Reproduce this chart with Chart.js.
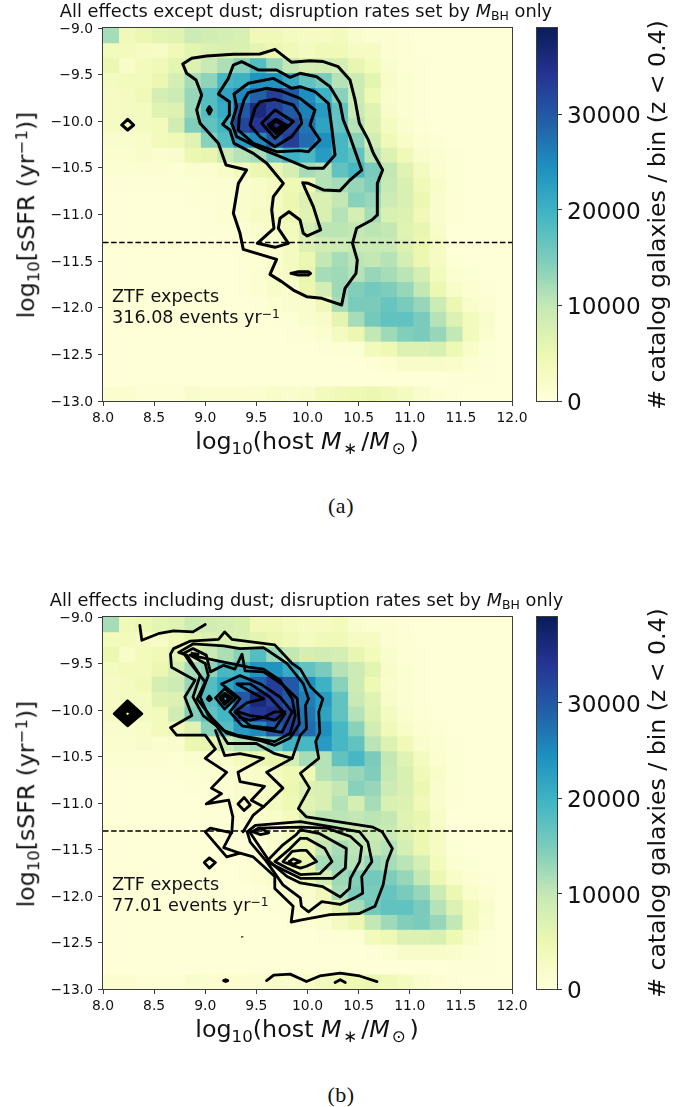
<!DOCTYPE html>
<html><head><meta charset="utf-8">
<script src="https://cdn.jsdelivr.net/npm/chart.js@4"></script>
<style>
html,body{margin:0;padding:0;background:#fff;width:690px;height:1107px;overflow:hidden}
body{position:relative;font-family:"DejaVu Sans",sans-serif;color:#000}
canvas{position:absolute;filter:blur(.3px)}
.t{position:absolute;white-space:nowrap;transform:translate(-50%,-50%);line-height:1;color:#111}
.r{transform:translate(-50%,-50%) rotate(-90deg)}
.l{transform:translate(0,-50%)}
.s{font-size:.7em;position:relative;top:.28em}
.g{font-size:.7em;position:relative;top:.28em;margin:0 .22em 0 .12em}
.u{font-size:.7em;position:relative;top:-.42em}
.cap{font-family:"Liberation Serif",serif;letter-spacing:.5px}
</style></head><body>
<canvas id="mainA" style="left:0;top:0"></canvas>
<canvas id="barA" style="left:525px;top:0"></canvas>
<canvas id="mainB" style="left:0;top:588px"></canvas>
<canvas id="barB" style="left:525px;top:588px"></canvas>

<div class="t" style="left:306px;top:11px;font-size:17.8px">All effects except dust; disruption rates set by <i>M</i><span class="s">BH</span> only</div>
<div class="t" style="left:306.5px;top:600px;font-size:17.8px">All effects including dust; disruption rates set by <i>M</i><span class="s">BH</span> only</div>
<div class="t r" style="left:27px;top:215px;font-size:23.6px">log<span class="s">10</span>[sSFR (yr<span class="u">−1</span>)]</div>
<div class="t r" style="left:27px;top:804px;font-size:23.6px">log<span class="s">10</span>[sSFR (yr<span class="u">−1</span>)]</div>
<div class="t" style="left:307px;top:442px;font-size:23.8px">log<span class="s">10</span>(host <i>M</i><span class="g">∗</span>/<i>M</i><span class="g">⊙</span>)</div>
<div class="t" style="left:307px;top:1030px;font-size:23.8px">log<span class="s">10</span>(host <i>M</i><span class="g">∗</span>/<i>M</i><span class="g">⊙</span>)</div>
<div class="t r" style="left:658px;top:215px;font-size:23.6px"># catalog galaxies / bin (z &lt; 0.4)</div>
<div class="t r" style="left:658px;top:803px;font-size:23.6px"># catalog galaxies / bin (z &lt; 0.4)</div>
<div class="t l" style="left:112px;top:297px;font-size:17.6px">ZTF expects</div>
<div class="t l" style="left:112px;top:318px;font-size:17.6px">316.08 events yr<span class="u">−1</span></div>
<div class="t l" style="left:112px;top:885px;font-size:17.6px">ZTF expects</div>
<div class="t l" style="left:112px;top:906px;font-size:17.6px">77.01 events yr<span class="u">−1</span></div>
<div class="t cap" style="left:341px;top:506px;font-size:22px">(a)</div>
<div class="t cap" style="left:341px;top:1095px;font-size:22px">(b)</div>

<script>
// Galaxy counts per bin, in thousands; rows run from sSFR -9 downward, columns from mass 8 upward.
const densityK = [
[12,4,5,6,6.5,9,8.5,8,7.5,4,4,3,2.5,2.5,3.5,1.5,1,.8,.5,.3,.2,.2,.2,.2,.2],
[3.5,3.5,2.5,2.3,4,6,7,7.5,7.5,6,5,4,3,4,4,2.5,2.5,.8,.6,.3,.2,.2,.2,.2,.2],
[5,2,3.5,4,6,7,9.5,11.5,14,18,13,10,8,8.5,8,5.5,3.5,1.5,.6,.4,.2,.2,.2,.2,.2],
[3,3.5,3.5,5,8,12,13.5,19,20,24,24,21,17,15,11,9,6,2,1,.5,.2,.2,.2,.2,.2],
[2.5,3,4,8,9,13,18,22,25,29,33,30,24.5,20,14,9,4.5,1.5,1,.5,.2,.2,.2,.2,.2],
[2.5,3,3,6.5,7,13,18,21,30,36,33,30,26,23,17,9.5,6.5,2,1,.5,.2,.2,.2,.2,.2],
[2.5,2.5,3,3.5,8.5,14.5,17,19.5,32,34,35,32,27,22,17,11,7,3,1.3,.6,.3,.2,.2,.2,.2],
[1.5,1.5,2,3.5,4,6.5,14,18,23,25,30,33,28,24.5,19,14,8.5,4,2,.8,.6,.2,.2,.2,.2],
[1.2,1.3,1.8,1.2,1.5,5,5.5,9,11,12,16,20,19,23,19,17,10.5,7,4,1.5,1,.5,.2,.2,.2],
[1,1,1,.8,.7,1.3,1.2,2,3.5,5,5.5,8,12,11,17,19,15,10,6.5,3,1.2,.7,.3,.2,.2],
[.5,.5,.5,.5,.6,.7,.8,1,1.5,2,3,4.5,4.5,11,12,13,14.6,9.7,7.5,4,2,.7,.3,.2,.2],
[.3,.3,.3,.3,.3,.5,.6,.9,1.5,2,3,5,7,7.5,10,14,13,9,7.5,5,1.5,.6,.3,.2,.2],
[.3,.3,.3,.3,.3,.3,.5,.8,1.5,2.5,3,4.5,6.5,7.5,11,8,12,7.5,7,4,1.5,.6,.3,.2,.2],
[.3,.3,.3,.3,.3,.3,.4,.5,.8,1.5,2,3.5,8,10.5,10.5,10,10.5,10,6.5,5.5,2,.3,.2,.2,.2],
[.3,.3,.3,.3,.3,.3,.3,.4,.6,1,1.5,3,7,8.5,9,9.5,9.5,9.5,7,5,2.5,.3,.2,.2,.2],
[.3,.3,.3,.3,.3,.3,.3,.3,.4,.7,1.5,3,5,10,12,10.5,10,11,8,5,2.5,.7,.3,.2,.2],
[.2,.2,.2,.2,.2,.2,.2,.3,.5,1,2,2.5,5.5,12,12.5,11,13,12,10.5,8,3.5,1,.7,.3,.2],
[.2,.2,.2,.2,.2,.2,.2,.2,.4,.8,2,1.5,5,8,12.5,14.5,15.5,14.7,13,10,5,2,.8,.4,.2],
[.2,.2,.2,.2,.2,.2,.2,.2,.2,.5,1,1.5,1.5,4,12,15,15,16.5,15,13,9,5,1.7,.8,.3],
[.2,.2,.2,.2,.2,.2,.2,.2,.2,.2,.4,.7,1.5,2,6,12,15.5,17,17,15,11,7,3.5,1.5,.3],
[.2,.2,.2,.2,.2,.2,.2,.2,.2,.2,.3,.4,.6,1.3,3,5,10,12.5,14.5,15,13,10,3.5,1.3,.3],
[.2,.2,.2,.2,.2,.2,.2,.2,.2,.2,.2,.2,.2,.5,.6,.7,3.5,4.5,7,7,7.5,4.5,2,.7,.3],
[.2,.2,.2,.2,.2,.2,.2,.2,.2,.2,.2,.2,.2,.2,.2,.3,.5,.8,1.8,1.8,2,1.6,1,.5,.2],
[.2,.2,.2,.2,.2,.2,.2,.2,.2,.2,.2,.2,.2,.2,.2,.2,.2,.2,.2,.2,.2,.4,.4,.4,.2],
[1.2,1.2,.6,.6,.6,1.5,1.2,1.2,1.2,1.3,2,1.5,2,3.5,4,4.5,5,4,3,1.5,.8,.4,.3,.2,.2]
];
const massStart = 8, ssfrStart = -9, binWidth = 0.16;
const massTicks = [8, 8.5, 9, 9.5, 10, 10.5, 11, 11.5, 12];
const ssfrTicks = [-13, -12.5, -12, -11.5, -11, -10.5, -10, -9.5, -9];
const colorbarTicks = [0, 10000, 20000, 30000];
const colorMax = 39000;
const ztfLimit = -11.3;

// Contours in (log mass, log sSFR). Closed loops:
const contoursA = [
[[8.78,-9.386],[8.867,-9.325],[9.014,-9.3],[9.275,-9.282],[9.535,-9.279],[9.682,-9.229],[9.845,-9.368],[10.024,-9.35],[10.155,-9.36],[10.3,-9.415],[10.416,-9.558],[10.465,-9.772],[10.507,-10.022],[10.595,-10.2],[10.644,-10.344],[10.735,-10.523],[10.683,-10.666],[10.683,-11.005],[10.63,-11.059],[10.48,-11.148],[10.44,-11.309],[10.487,-11.488],[10.474,-11.631],[10.367,-11.792],[10.334,-11.971],[10.139,-11.899],[9.992,-11.881],[9.861,-11.81],[9.747,-11.72],[9.633,-11.642],[9.698,-11.481],[9.372,-11.374],[9.34,-11.202],[9.275,-10.987],[9.324,-10.666],[9.405,-10.523],[9.203,-10.469],[9.128,-10.237],[8.949,-10.022],[8.916,-9.879],[8.965,-9.719],[8.91,-9.558],[8.818,-9.486]],
[[9.226,-9.54],[9.275,-9.397],[9.356,-9.361],[9.519,-9.45],[9.698,-9.45],[9.829,-9.529],[9.927,-9.486],[10.09,-9.522],[10.22,-9.629],[10.318,-9.808],[10.35,-9.987],[10.416,-10.165],[10.53,-10.523],[10.416,-10.63],[10.318,-10.744],[10.155,-10.737],[10.008,-10.666],[9.953,-10.659],[9.976,-10.719],[10.057,-10.916],[10.129,-11.166],[9.998,-11.23],[9.959,-11.202],[9.927,-11.059],[9.819,-10.97],[9.731,-11.041],[9.715,-11.148],[9.813,-11.309],[9.682,-11.352],[9.509,-11.309],[9.672,-11.148],[9.65,-10.952],[9.666,-10.809],[9.764,-10.666],[9.601,-10.451],[9.47,-10.344],[9.281,-10.237],[9.242,-10.094],[9.17,-10.033],[9.236,-9.933],[9.236,-9.79],[9.128,-9.708]],
[[9.281,-9.708],[9.421,-9.593],[9.666,-9.54],[9.845,-9.647],[9.927,-9.629],[10.073,-9.683],[10.204,-9.808],[10.236,-10.058],[10.269,-10.362],[10.155,-10.505],[10.008,-10.505],[9.927,-10.469],[9.698,-10.362],[9.535,-10.29],[9.307,-10.165],[9.258,-10.022],[9.307,-9.844]],
[[9.379,-9.772],[9.421,-9.693],[9.601,-9.647],[9.731,-9.672],[9.927,-9.754],[10.073,-9.879],[10.024,-10.04],[10.122,-10.201],[10.008,-10.326],[9.927,-10.315],[9.698,-10.326],[9.47,-10.237],[9.324,-10.094],[9.333,-9.951]],
[[9.487,-9.861],[9.535,-9.79],[9.682,-9.765],[9.861,-9.826],[9.927,-9.933],[9.943,-10.022],[9.845,-10.165],[9.682,-10.273],[9.535,-10.165],[9.438,-10.04]],
[[9.552,-10.022],[9.682,-9.879],[9.861,-10.004],[9.682,-10.183]],
[[9.617,-10.04],[9.692,-9.979],[9.796,-10.04],[9.692,-10.13]],
[[9.65,-10.04],[9.69,-10],[9.76,-10.04],[9.69,-10.09]],
[[8.183,-10.04],[8.241,-9.98],[8.3,-10.04],[8.241,-10.094]],
[[9.04,-9.844],[9.06,-9.88],[9.04,-9.922],[9.02,-9.88]],
[[9.839,-11.631],[9.91,-11.613],[10.008,-11.613],[10.03,-11.631],[10.008,-11.649],[9.91,-11.649]]
];
const contoursB = [
[[8.66,-9.4],[8.69,-9.34],[8.85,-9.26],[9.13,-9.24],[9.19,-9.16],[9.26,-9.24],[9.47,-9.27],[9.68,-9.3],[9.85,-9.5],[9.93,-9.56],[10.03,-9.75],[10.15,-9.88],[10.11,-10.02],[10.12,-10.24],[10.08,-10.34],[10.11,-10.52],[9.93,-10.68],[10.02,-10.84],[9.93,-11.02],[9.91,-11.06],[9.99,-11.15],[10.64,-11.26],[10.73,-11.31],[10.83,-11.49],[10.78,-11.63],[10.74,-11.88],[10.66,-12.11],[10.5,-12.19],[10.22,-12.2],[9.93,-12.26],[9.84,-12.28],[9.86,-12.11],[9.68,-11.92],[9.68,-11.79],[9.47,-11.58],[9.34,-11.54],[9.18,-11.48],[9.26,-11.31],[9.27,-11.15],[9.23,-10.97],[9.01,-11.01],[9.16,-10.9],[9.06,-10.84],[9.21,-10.67],[9,-10.52],[9.1,-10.42],[9,-10.27],[8.72,-10.27],[8.66,-10.19],[8.87,-10.06],[8.8,-9.86],[8.9,-9.68],[8.67,-9.54]],
[[8.74,-9.38],[8.88,-9.29],[9.18,-9.31],[9.34,-9.34],[9.57,-9.33],[9.8,-9.5],[9.96,-9.72],[10.01,-9.88],[9.98,-9.95],[9.99,-10.2],[9.93,-10.27],[9.85,-10.52],[9.68,-10.47],[9.5,-10.36],[9.22,-10.36],[9.11,-10.17],[8.98,-10.06],[8.88,-9.86],[8.95,-9.63],[8.82,-9.41]],
[[8.79,-9.39],[8.88,-9.34],[9.01,-9.41],[9.05,-9.59],[9.18,-9.52],[9.29,-9.56],[9.36,-9.4],[9.39,-9.58],[9.57,-9.59],[9.76,-9.73],[9.9,-9.88],[9.92,-10.15],[9.83,-10.3],[9.68,-10.38],[9.54,-10.33],[9.34,-10.29],[9.21,-10.25],[9.06,-10.08],[8.92,-9.88],[9,-9.7],[8.85,-9.49]],
[[8.85,-9.41],[9,-9.5],[9.03,-9.63],[8.95,-9.86],[9.03,-10.06],[9.18,-10.22],[9.31,-10.27],[9.68,-10.34],[9.83,-10.25],[9.88,-10.06],[9.85,-9.88],[9.73,-9.68],[9.57,-9.56],[9.42,-9.54]],
[[8.87,-9.39],[8.93,-9.4],[8.92,-9.42]],
[[9.16,-9.72],[9.34,-9.63],[9.54,-9.72],[9.73,-9.86],[9.85,-10.02],[9.75,-10.24],[9.63,-10.22],[9.36,-10.17],[9.24,-10.02],[9.34,-9.88]],
[[9.31,-9.72],[9.44,-9.72],[9.63,-9.86],[9.78,-10.04],[9.68,-10.2],[9.44,-10.17],[9.29,-10.02],[9.41,-9.92],[9.57,-9.88]],
[[9.32,-10.02],[9.44,-10.06],[9.57,-10.08],[9.68,-10.02],[9.78,-10.02],[9.68,-10.11],[9.57,-10.08],[9.44,-10.11],[9.34,-10.08]],
[[9.1,-9.87],[9.19,-9.77],[9.3,-9.87],[9.19,-9.99]],
[[9.14,-9.87],[9.19,-9.82],[9.26,-9.87],[9.19,-9.94]],
[[9.17,-9.87],[9.19,-9.84],[9.23,-9.88],[9.19,-9.92]],
[[9.02,-9.88],[9.04,-9.85],[9.06,-9.88],[9.04,-9.9]],
[[8.99,-11.64],[9.04,-11.59],[9.1,-11.64],[9.04,-11.7]],
[[9.32,-11.01],[9.38,-10.94],[9.44,-11.02],[9.38,-11.08]],
[[9.41,-11.31],[9.49,-11.24],[9.93,-11.2],[10.25,-11.26],[10.51,-11.31],[10.59,-11.42],[10.63,-11.63],[10.53,-11.79],[10.54,-11.97],[10.46,-12.02],[10.32,-12.09],[10.14,-12.06],[10.01,-12.17],[9.94,-12.11],[9.93,-12.02],[9.76,-11.88],[9.6,-11.63],[9.44,-11.42]],
[[9.44,-11.32],[9.52,-11.27],[9.93,-11.26],[10.19,-11.27],[10.42,-11.36],[10.53,-11.47],[10.51,-11.63],[10.42,-11.81],[10.41,-11.92],[10.32,-12.01],[10.15,-11.9],[9.93,-11.86],[9.8,-11.79],[9.63,-11.63],[9.5,-11.42]],
[[9.93,-11.29],[10.12,-11.33],[10.38,-11.49],[10.37,-11.7],[10.25,-11.81],[9.93,-11.81],[9.8,-11.74],[9.6,-11.63],[9.76,-11.45],[9.89,-11.34]],
[[9.93,-11.38],[9.99,-11.38],[10.17,-11.49],[10.24,-11.63],[10.12,-11.76],[9.93,-11.77],[9.8,-11.7],[9.68,-11.63],[9.83,-11.49]],
[[9.93,-11.51],[9.99,-11.51],[10.09,-11.63],[9.99,-11.68],[9.93,-11.7],[9.85,-11.67],[9.76,-11.63],[9.85,-11.52]],
[[9.82,-11.63],[9.86,-11.6],[9.93,-11.63],[9.86,-11.66]],
[[9.47,-11.31],[9.54,-11.27],[9.62,-11.32],[9.54,-11.34]],
[[9.18,-12.91],[9.2,-12.9],[9.22,-12.91],[9.2,-12.92]],
[[8.11,-10.04],[8.24,-9.9],[8.38,-10.04],[8.24,-10.17]],
[[8.13,-10.04],[8.24,-9.925],[8.35,-10.04],[8.24,-10.15]],
[[8.155,-10.04],[8.24,-9.955],[8.325,-10.04],[8.24,-10.125]],
[[8.18,-10.04],[8.24,-9.98],[8.3,-10.04],[8.24,-10.1]],
[[8.205,-10.04],[8.24,-10.005],[8.275,-10.04],[8.24,-10.075]]
];
// Open contour pieces
const openA = [];
const openB = [
[[8.36,-9.09],[8.38,-9.25],[8.54,-9.18],[8.69,-9.15],[8.88,-9.16],[9,-9.08]],
[[9.26,-11.32],[9.05,-11.27],[9,-11.31],[9.21,-11.58],[9.34,-11.54]],
[[9.1,-10.22],[9.19,-10.49],[9.34,-10.47],[9.57,-10.52],[9.32,-10.67],[9.34,-10.77],[9.58,-10.82],[9.45,-10.97],[9.57,-11.04],[9.47,-11.13],[9.37,-11.31]],
[[9.85,-10.52],[9.6,-10.67],[9.76,-10.84],[9.57,-11.04]],
[[9.6,-12.91],[9.67,-12.85],[9.83,-12.84],[9.99,-12.92],[10.12,-12.86],[10.32,-12.83],[10.51,-12.86],[10.68,-12.92]],
[[10.27,-12.93],[10.32,-12.9],[10.37,-12.93]]
];
const tinyB = [[[9.35,-12.44],[9.37,-12.44]]];

const stops = [[255,255,217],[237,248,177],[199,233,180],[127,205,187],[65,182,196],[29,145,192],[34,94,168],[37,52,148],[8,29,88]];
function ylgnbu(t){
  t = Math.max(0, Math.min(1, t)) * (stops.length - 1);
  const i = Math.min(stops.length - 2, Math.floor(t)), f = t - i;
  const c = stops[i].map((v, k) => Math.round(v + (stops[i + 1][k] - v) * f));
  return `rgb(${c[0]},${c[1]},${c[2]})`;
}
const spine = '#3c3c3c';
const framePlugin = {
  id: 'frame',
  afterDraw(chart){
    const a = chart.chartArea, c = chart.ctx;
    c.save(); c.strokeStyle = spine; c.lineWidth = 1;
    c.strokeRect(Math.round(a.left) + .5 - 1, Math.round(a.top) - .5, Math.round(a.width) + 1, Math.round(a.height) + 1);
    c.restore();
  }
};
const minus = v => String(v.toFixed(1)).replace('-', '\u2212');

function heatDatasets(){
  return densityK.map((row, j) => ({
    type: 'bar', order: 5, grouped: false, barPercentage: 1, categoryPercentage: 1,
    borderWidth: 0,
    backgroundColor: row.map(v => ylgnbu(v * 1000 / colorMax)),
    data: row.map((v, i) => ({
      x: massStart + binWidth * (i + .5),
      y: [ssfrStart - binWidth * (j + 1), ssfrStart - binWidth * j]
    }))
  }));
}
function lineSet(pts, close, width, extra){
  const path = pts.map(p => ({x: p[0], y: p[1]}));
  if (close) path.push({x: pts[0][0], y: pts[0][1]});
  return Object.assign({
    type: 'scatter', order: 2, showLine: true, tension: 0, pointRadius: 0,
    borderColor: '#000', borderWidth: width, borderJoinStyle: 'round', borderCapStyle: 'round',
    data: path
  }, extra || {});
}
function panel(id, padTop, closed, open, tiny, w){
  const cv = document.getElementById(id);
  cv.width = 535; cv.height = 440; cv.style.width = '535px'; cv.style.height = '440px';
  const ds = heatDatasets();
  closed.forEach(p => ds.push(lineSet(p, true, w)));
  open.forEach(p => ds.push(lineSet(p, false, w)));
  tiny.forEach(p => ds.push(lineSet(p, false, 1)));
  ds.push(lineSet([[massStart, ztfLimit], [12, ztfLimit]], false, 1.5, {order: 1, borderDash: [5.5, 2.6], borderCapStyle: 'butt'}));
  new Chart(cv, {
    type: 'bar',
    data: {datasets: ds},
    options: {
      responsive: false, animation: false, events: [],
      layout: {padding: {top: padTop, right: 23, bottom: 0, left: 0}},
      plugins: {legend: {display: false}, tooltip: {enabled: false}},
      scales: {
        x: {
          type: 'linear', min: 8, max: 12, offset: false,
          grid: {display: true, offset: false, drawOnChartArea: false, drawTicks: true, tickLength: 5, tickColor: spine, lineWidth: 1},
          border: {display: true, color: spine},
          afterBuildTicks: s => { s.ticks = massTicks.map(v => ({value: v})); },
          afterFit: s => { s.height = 39; s.paddingRight = 0; s.paddingLeft = 0; },
          ticks: {autoSkip: false, maxRotation: 0, padding: 4, color: '#111', font: {family: 'DejaVu Sans', size: 13.9}, callback: v => v.toFixed(1)}
        },
        y: {
          type: 'linear', min: -13, max: -9,
          grid: {display: true, drawOnChartArea: false, drawTicks: true, tickLength: 5, tickColor: spine, lineWidth: 1},
          border: {display: true, color: spine},
          afterBuildTicks: s => { s.ticks = ssfrTicks.map(v => ({value: v})); },
          afterFit: s => { s.width = 103; s.paddingTop = 0; s.paddingBottom = 0; },
          ticks: {autoSkip: false, padding: 5, labelOffset: 1, color: '#111', font: {family: 'DejaVu Sans', size: 13.9}, callback: minus}
        }
      }
    },
    plugins: [framePlugin]
  });
}
function colorbar(id, padTop){
  const cv = document.getElementById(id);
  cv.width = 130; cv.height = 440; cv.style.width = '130px'; cv.style.height = '440px';
  new Chart(cv, {
    type: 'bar',
    data: {labels: ['counts'], datasets: [{
      data: [[0, colorMax]], barPercentage: 1, categoryPercentage: 1, borderWidth: 0,
      backgroundColor(ctx){
        const a = ctx.chart.chartArea;
        if (!a) return '#fff';
        const g = ctx.chart.ctx.createLinearGradient(0, a.bottom, 0, a.top);
        stops.forEach((_, i) => g.addColorStop(i / (stops.length - 1), ylgnbu(i / (stops.length - 1))));
        return g;
      }
    }]},
    options: {
      responsive: false, animation: false, events: [],
      layout: {padding: {top: padTop, bottom: 39, left: 12, right: 0}},
      plugins: {legend: {display: false}, tooltip: {enabled: false}},
      scales: {
        x: {display: false},
        y: {
          position: 'right', min: 0, max: colorMax,
          grid: {display: true, drawOnChartArea: false, drawTicks: true, tickLength: 5, tickColor: spine, lineWidth: 1},
          border: {display: true, color: spine},
          afterBuildTicks: s => { s.ticks = colorbarTicks.map(v => ({value: v})); },
          afterFit: s => { s.width = 98; s.paddingTop = 0; s.paddingBottom = 0; },
          ticks: {autoSkip: false, padding: 5, labelOffset: 3, color: '#111', font: {family: 'DejaVu Sans', size: 23.2}, callback: v => String(v)}
        }
      }
    },
    plugins: [framePlugin]
  });
}
panel('mainA', 28, contoursA, openA, [], 3);
panel('mainB', 29, contoursB, openB, tinyB, 2.8);
colorbar('barA', 28);
colorbar('barB', 29);
</script>
</body></html>
